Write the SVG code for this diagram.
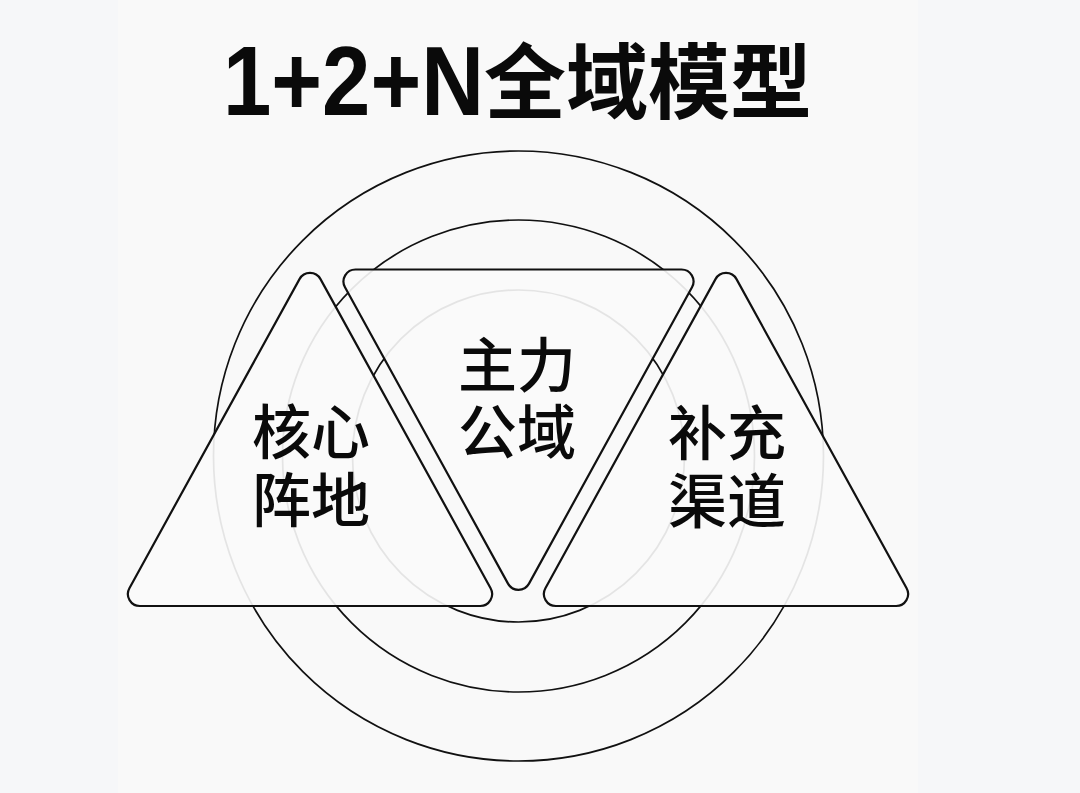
<svg xmlns="http://www.w3.org/2000/svg" width="1080" height="793" viewBox="0 0 1080 793">
  <defs>
    <style>
      .ring { fill: none; stroke: #111; stroke-width: 1.7; }
      .tri { fill: #fafafa; fill-opacity: 0.91; stroke: #111; stroke-width: 2.2; stroke-linejoin: round; }
      .label { font-family: "Noto Sans CJK SC", "Noto Sans", sans-serif; font-size: 59px; font-weight: 500; fill: #0a0a0a; text-anchor: middle; }
      .title-cjk { font-family: "Noto Sans CJK SC", sans-serif; font-size: 82px; font-weight: 700; fill: #0a0a0a; }
      .title-lat { font-family: "Liberation Sans", Arial, sans-serif; font-size: 98px; font-weight: 700; fill: #0a0a0a; }
    </style>
  </defs>

  <rect x="0" y="0" width="1080" height="793" fill="#f9f9f9"/>
  <rect x="0" y="0" width="118" height="793" fill="#f6f7f9"/>
  <rect x="918" y="0" width="162" height="793" fill="#f6f7f9"/>

  <g id="title">
    <text class="title-lat" x="223" y="115" textLength="261" lengthAdjust="spacingAndGlyphs">1+2+N</text>
    <text class="title-cjk" x="484" y="112">全域模型</text>
  </g>

  <g id="rings">
    <circle class="ring" cx="518.5" cy="456" r="305"/>
    <circle class="ring" cx="518.5" cy="456" r="236"/>
    <circle class="ring" cx="518.5" cy="456" r="166"/>
  </g>

  <g id="node-core">
    <path class="tri" d="M 320.5,279.1 L 490.6,588.2 A 12 12 0 0 1 480.1,606 L 139.9,606 A 12 12 0 0 1 129.4,588.2 L 299.5,279.1 A 12 12 0 0 1 320.5,279.1 Z"/>
    <text class="label" x="311" y="454">核心<tspan x="311" y="522">阵地</tspan></text>
  </g>

  <g id="node-main">
    <path class="tri" d="M 355.5,269.5 L 681.5,269.5 A 12 12 0 0 1 692.0,287.3 L 529.0,583.6 A 12 12 0 0 1 508.0,583.6 L 345.0,287.3 A 12 12 0 0 1 355.5,269.5 Z"/>
    <text class="label" x="517" y="387">主力<tspan x="517" y="454">公域</tspan></text>
  </g>

  <g id="node-supplement">
    <path class="tri" d="M 736.5,279.1 L 906.6,588.2 A 12 12 0 0 1 896.1,606 L 555.9,606 A 12 12 0 0 1 545.4,588.2 L 715.5,279.1 A 12 12 0 0 1 736.5,279.1 Z"/>
    <text class="label" x="727" y="455">补充<tspan x="727" y="523">渠道</tspan></text>
  </g>

  <g id="connectors"/>
</svg>
